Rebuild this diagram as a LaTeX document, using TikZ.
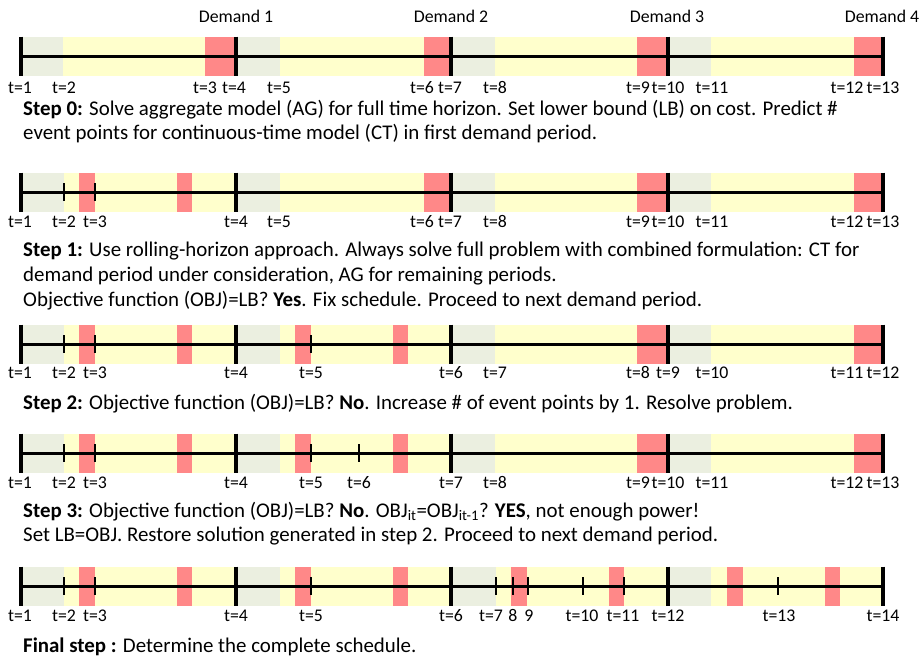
\documentclass[tikz,border=0pt]{standalone}
\usepackage{fontspec}
\setmainfont{Carlito}
\definecolor{gapc}{RGB}{235,239,224}
\definecolor{prodc}{RGB}{255,255,204}
\definecolor{demc}{RGB}{255,136,136}
\newcommand\period[3]{%
  \fill[gapc] (#1,-19.5) rectangle (#2,19.5);
  \fill[prodc] (#2,-19.5) rectangle (#3,19.5);}
\newcommand\demand[2]{\fill[demc] (#1,-19.5) rectangle (#2,19.5);}
\newcommand\axisline{%
  \draw[axis] (21,0) -- (883,0);
  \foreach \x in {21,236,451,668,883} \draw[major] (\x,-19.5) -- (\x,19.5);}
\begin{document}
\begin{tikzpicture}[x=1pt,y=-1pt,
  axis/.style={line width=3pt},
  major/.style={line width=3.6pt},
  minor/.style={line width=1.8pt},
  tlab/.style={font=\fontsize{17.8}{20}\selectfont, anchor=base, inner sep=0pt},
  steptext/.style={font=\fontsize{20.9}{25}\selectfont, anchor=base west, inner sep=0pt}]
\useasboundingbox (0,0) rectangle (922,657);

% ---- demand markers above the first timeline
\foreach \x/\d in {236/1,451/2,667/3,882/4}
  \node[tlab] (dem\d) at (\x,22) {Demand \d};

% ---- step 0: aggregate model
\begin{scope}[shift={(0,56)}]
  \period{21}{63}{236}\demand{205}{236}
  \period{236}{280}{451}\demand{424}{451}
  \period{451}{495}{668}\demand{637}{668}
  \period{668}{711}{883}\demand{854}{883}
  \axisline
  \foreach \x/\t [count=\i] in {20/1,64/2,205/3,234/4,279/5,422/6,450/7,495/8,638/9,668/10,712/11,847/12,883/13}
    \node[tlab] (a\i) at (\x,37) {t=\t};
\end{scope}
\node[steptext] (s0a) at (23,115) {\textbf{Step 0:} Solve aggregate model (AG) for full time horizon. Set lower bound (LB) on cost. Predict \#};
\node[steptext] (s0b) at (23,139) {event points for continuous-time model (CT) in first demand period.};

% ---- step 1: rolling horizon, first period refined
\begin{scope}[shift={(0,192)}]
  \period{21}{64}{236}\demand{79}{95}\demand{177}{192}
  \period{236}{280}{451}\demand{424}{451}
  \period{451}{495}{668}\demand{637}{668}
  \period{668}{711}{883}\demand{854}{883}
  \axisline
  \foreach \x in {64,95} \draw[minor] (\x,-9) -- (\x,9);
  \foreach \x/\t [count=\i] in {20/1,64/2,95/3,236/4,279/5,422/6,450/7,495/8,638/9,668/10,712/11,847/12,883/13}
    \node[tlab] (b\i) at (\x,35) {t=\t};
\end{scope}
\node[steptext] (s1a) at (23,256) {\textbf{Step 1:} Use rolling-horizon approach. Always solve full problem with combined formulation: CT for};
\node[steptext] (s1b) at (23,281) {demand period under consideration, AG for remaining periods.};
\node[steptext] (s1c) at (23,306) {Objective function (OBJ)=LB? \textbf{Yes}. Fix schedule. Proceed to next demand period.};

% ---- step 2: second period refined
\begin{scope}[shift={(0,344)}]
  \period{21}{64}{236}\demand{79}{95}\demand{177}{192}
  \period{236}{280}{451}\demand{295}{311}\demand{393}{408}
  \period{451}{495}{668}\demand{637}{668}
  \period{668}{711}{883}\demand{854}{883}
  \axisline
  \foreach \x in {64,95,311} \draw[minor] (\x,-9) -- (\x,9);
  \foreach \x/\t [count=\i] in {20/1,64/2,95/3,236/4,311/5,451/6,495/7,638/8,668/9,712/10,847/11,883/12}
    \node[tlab] (c\i) at (\x,34) {t=\t};
\end{scope}
\node[steptext] (s2a) at (23,409) {\textbf{Step 2:} Objective function (OBJ)=LB? \textbf{No}. Increase \# of event points by 1. Resolve problem.};

% ---- step 3: one more event point
\begin{scope}[shift={(0,453)}]
  \period{21}{64}{236}\demand{79}{95}\demand{177}{192}
  \period{236}{280}{451}\demand{295}{311}\demand{393}{408}
  \period{451}{495}{668}\demand{637}{668}
  \period{668}{711}{883}\demand{854}{883}
  \axisline
  \foreach \x in {64,95,311,359} \draw[minor] (\x,-9) -- (\x,9);
  \foreach \x/\t [count=\i] in {20/1,64/2,95/3,236/4,311/5,359/6,451/7,495/8,638/9,668/10,712/11,847/12,883/13}
    \node[tlab] (d\i) at (\x,35) {t=\t};
\end{scope}
\node[steptext] (s3a) at (23,517) {\textbf{Step 3:} Objective function (OBJ)=LB? \textbf{No}. OBJ\textsubscript{it}=OBJ\textsubscript{it-1}? \textbf{YES}, not enough power!};
\node[steptext] (s3b) at (23,541) {Set LB=OBJ. Restore solution generated in step 2. Proceed to next demand period.};

% ---- final schedule
\begin{scope}[shift={(0,586)}]
  \period{21}{64}{236}\demand{79}{95}\demand{177}{192}
  \period{236}{280}{451}\demand{295}{311}\demand{393}{408}
  \period{451}{496}{668}\demand{511}{527}\demand{609}{624}
  \period{668}{711}{883}\demand{727}{743}\demand{825}{840}
  \axisline
  \foreach \x in {64,95,311,496,513,528,583,624,778} \draw[minor] (\x,-9) -- (\x,9);
  \foreach \x/\t [count=\i] in {20/t=1,64/t=2,95/t=3,236/t=4,311/t=5,451/t=6,491/t=7,513/8,529/9,582/t=10,623/t=11,668/t=12,779/t=13,883/t=14}
    \node[tlab] (e\i) at (\x,35) {\t};
\end{scope}
\node[steptext] (sf) at (23,652) {\textbf{Final step :} Determine the complete schedule.};
\end{tikzpicture}
\end{document}
